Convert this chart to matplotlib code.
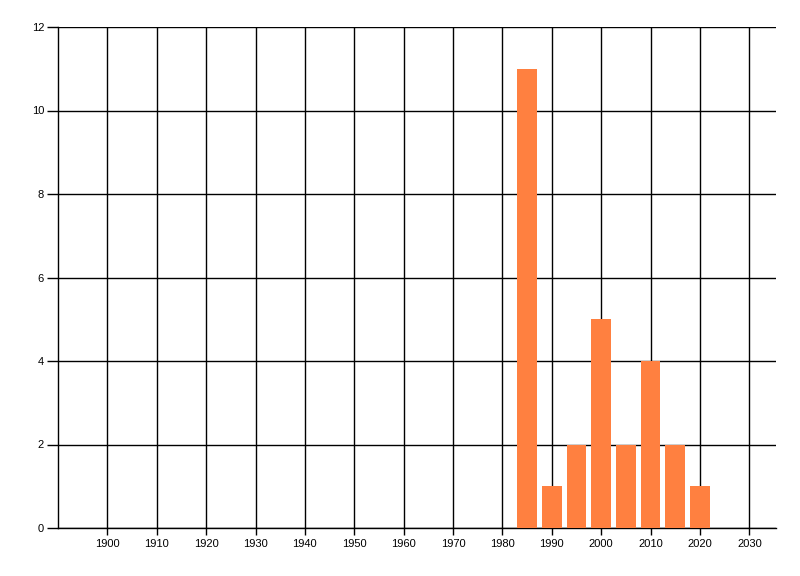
import matplotlib
matplotlib.use("Agg")
import matplotlib.pyplot as plt

years = [1985, 1990, 1995, 2000, 2005, 2010, 2015, 2020]
counts = [11, 1, 2, 5, 2, 4, 2, 1]
x_ticks = list(range(1900, 2031, 10))
y_ticks = [0, 2, 4, 6, 8, 10, 12]

fig = plt.figure(figsize=(8, 5.76), dpi=100)
ax = fig.add_axes([58 / 800, 1 - 528 / 576, (776 - 58) / 800, (528 - 27) / 576])

ax.bar(years, counts, width=4, color="#FF8040", zorder=3)

ax.set_xlim(1890, 2035.4)
ax.set_ylim(0, 12)
ax.set_xticks(x_ticks)
ax.set_yticks(y_ticks)

# black grid, like the old WinForms chart
ax.grid(True, color="black", linewidth=1, zorder=0)
ax.set_axisbelow(True)

for s in ["top", "right"]:
    ax.spines[s].set_visible(False)
for s in ["left", "bottom"]:
    ax.spines[s].set_linewidth(1)

ax.tick_params(axis="both", direction="out", length=8, width=1, labelsize=8,
               colors="black", pad=2)
ax.tick_params(axis="x", length=5, pad=3)
for lbl in ax.get_xticklabels() + ax.get_yticklabels():
    lbl.set_family("Liberation Sans")

plt.savefig("out.png", dpi=100)
